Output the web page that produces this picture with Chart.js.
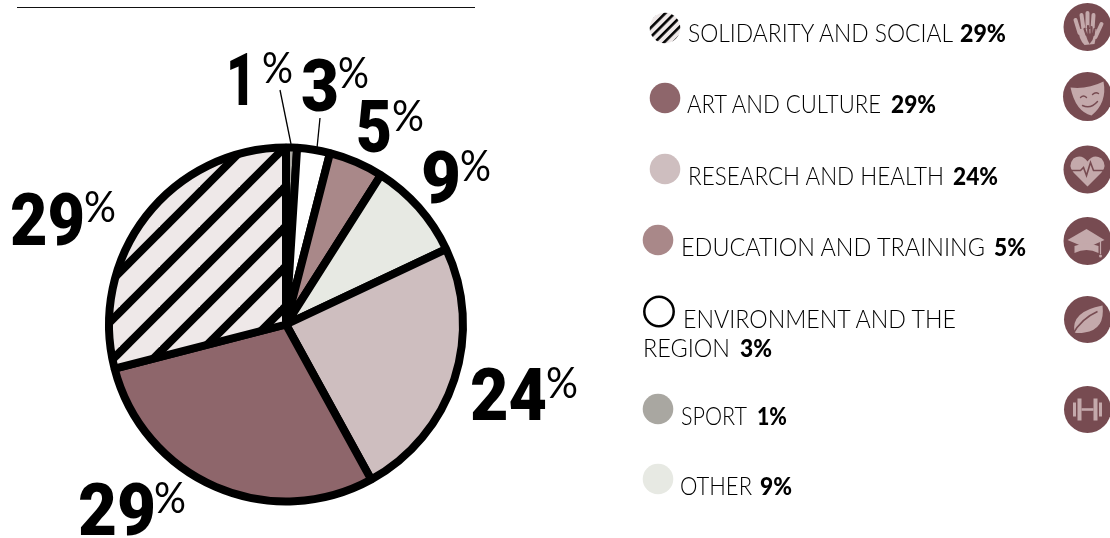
<!DOCTYPE html>
<html>
<head>
<meta charset="utf-8">
<title>Pie</title>
<script src="https://cdn.jsdelivr.net/npm/chart.js@4"></script>
<style>
  html, body { margin: 0; padding: 0; background: #fff; }
  #wrap { position: relative; width: 1110px; height: 538px; overflow: hidden; }
  #pie, #overlay { position: absolute; left: 0; top: 0; }
  #overlay text { font-family: Lato, sans-serif; fill: #000; }
  .name { font-size: 25px; font-weight: 300; fill: #1a1a1a; }
  .val { font-size: 24px; font-weight: 900; }
  #overlay .big { font-family: Roboto, sans-serif; font-size: 73px; font-weight: 900; }
  .pct { font-size: 42px; font-weight: 400; }
</style>
</head>
<body>
<div id="wrap">
  <canvas id="pie" width="1110" height="538"></canvas>
  <svg id="overlay" width="1110" height="538" xmlns="http://www.w3.org/2000/svg">
    <defs>
      <pattern id="swatch-stripes" width="6.6" height="6.6" patternUnits="userSpaceOnUse" patternTransform="rotate(45 665 28)">
        <rect width="6.6" height="6.6" fill="#eee8e8"/>
        <rect width="2.6" height="6.6" fill="#000"/>
      </pattern>
    </defs>
  </svg>
</div>
<script>
// slices clockwise from 12 o'clock
const categories = ['SPORT', 'ENVIRONMENT AND THE REGION', 'EDUCATION AND TRAINING', 'OTHER', 'RESEARCH AND HEALTH', 'ART AND CULTURE', 'SOLIDARITY AND SOCIAL'];
const values = [1, 3, 5, 9, 24, 29, 29];
const sliceColors = ['#a9a7a1', '#ffffff', '#a98889', '#e7e9e3', '#cebebf', '#8e666b', 'stripes'];

// number x, width, baseline, then % sign x, width, baseline
const bigLabelPlaces = [
  [226, 30, 105, 262, 31, 83],
  [301, 38, 111, 338, 31, 88],
  [356, 36, 152, 392, 32, 131],
  [421, 40, 203, 460, 31, 181],
  [470, 77, 420, 546, 32, 398],
  [78, 78, 535, 154, 32, 513],
  [10, 75, 245, 84, 32, 222]
];

// legend rows: slice index, dot x/y, then text lines [text, x, width, baseline], value [x, width, baseline]
const legendRows = [
  { i: 6, dot: [665, 28], lines: [['SOLIDARITY AND SOCIAL', 688, 265, 42]], val: [960, 46, 42] },
  { i: 5, dot: [665, 98], lines: [['ART AND CULTURE', 687, 194, 113]], val: [891, 45, 113] },
  { i: 4, dot: [665, 169], lines: [['RESEARCH AND HEALTH', 688, 256, 185]], val: [953, 45, 185] },
  { i: 2, dot: [658, 240], lines: [['EDUCATION AND TRAINING', 681, 304, 256]], val: [994, 32, 256] },
  { i: 1, dot: [659, 311.5], lines: [['ENVIRONMENT AND THE', 683, 273, 328], ['REGION', 643, 87, 357]], val: [740, 32, 357] },
  { i: 0, dot: [658, 409], lines: [['SPORT', 681, 66, 425]], val: [757, 30, 425] },
  { i: 3, dot: [658, 479], lines: [['OTHER', 680, 72, 495]], val: [760, 32, 495] }
];

const ICON_BG = '#774b51';
const ICON_FG = '#c4a9ab';

function stripePattern(ctx) {
  const tile = document.createElement('canvas');
  tile.width = 40;
  tile.height = 40;
  const t = tile.getContext('2d');
  t.fillStyle = '#eee8e8';
  t.fillRect(0, 0, 40, 40);
  t.strokeStyle = '#000';
  t.lineWidth = 8;
  [-8, 32, 72].forEach(c => {
    t.beginPath();
    t.moveTo(c + 10, -10);
    t.lineTo(-10, c + 10);
    t.stroke();
  });
  return ctx.createPattern(tile, 'repeat');
}

const ctx = document.getElementById('pie').getContext('2d');
new Chart(ctx, {
  type: 'pie',
  data: {
    labels: categories,
    datasets: [{
      data: values,
      backgroundColor: sliceColors.map(c => c === 'stripes' ? stripePattern(ctx) : c),
      borderColor: '#000',
      borderWidth: 8
    }]
  },
  options: {
    responsive: false,
    animation: false,
    layout: { padding: { left: 105, top: 143, right: 643, bottom: 32 } },
    plugins: { legend: { display: false }, tooltip: { enabled: false } }
  }
});

// ========== overlay ==========
const svg = document.getElementById('overlay');
const NS = 'http://www.w3.org/2000/svg';

function add(tag, attrs, parent) {
  const el = document.createElementNS(NS, tag);
  Object.keys(attrs).forEach(k => el.setAttribute(k, attrs[k]));
  (parent || svg).appendChild(el);
  return el;
}

function addText(str, x, width, y, cls) {
  const el = add('text', { x: x, y: y, class: cls, textLength: width, lengthAdjust: 'spacingAndGlyphs' });
  el.textContent = str;
}

add('line', { x1: 17, y1: 7.5, x2: 475, y2: 7.5, stroke: '#111', 'stroke-width': 1 });
add('line', { x1: 280, y1: 90, x2: 291, y2: 144, stroke: '#000', 'stroke-width': 1.3 });
add('line', { x1: 320, y1: 118, x2: 317, y2: 148, stroke: '#000', 'stroke-width': 1.3 });

values.forEach((v, i) => {
  const p = bigLabelPlaces[i];
  addText(String(v), p[0], p[1], p[2], 'big');
  addText('%', p[3], p[4], p[5], 'pct');
});

legendRows.forEach(row => {
  const color = sliceColors[row.i];
  const dot = { cx: row.dot[0], cy: row.dot[1], r: 15.3 };
  if (color === 'stripes') add('circle', Object.assign(dot, { fill: 'url(#swatch-stripes)' }));
  else if (color === '#ffffff') add('circle', Object.assign(dot, { r: 14.7, fill: '#fff', stroke: '#000', 'stroke-width': 2.5 }));
  else add('circle', Object.assign(dot, { fill: color }));
  row.lines.forEach(l => addText(l[0], l[1], l[2], l[3], 'name'));
  addText(values[row.i] + '%', row.val[0], row.val[1], row.val[2], 'val');
});

// ========== icons ==========
const icons = [
  [1087.5, 27, 24, `<g fill="none" stroke="${ICON_FG}" stroke-width="4" stroke-linecap="round"><path d="M-12,-7L-8,6M-6,-12L-4,2M0,-14V0M6,-12L5,2M14,-3L8,10"/></g><path d="M-9,2Q-9,12 -3,18L7,17Q9,8 9,2Z" fill="${ICON_FG}"/><g fill="none" stroke="${ICON_BG}" stroke-width="2.2" stroke-linecap="round"><path d="M-3,2L-1,8M0.5,-1L1,7M4,0L4,8M7,2L6,8"/></g><path d="M-2,7L7,6L5,13L2,17L0,13Z" fill="${ICON_BG}"/>`],
  [1087.5, 96.5, 24.5, `<path d="M-17,-9Q0,-7 16,-15Q20,6 4,19Q-12,15 -17,-9Z" fill="${ICON_FG}"/><g fill="none" stroke="${ICON_BG}" stroke-width="1.4" stroke-linecap="round"><path d="M-7,1Q-4,-2 -1,1M5,-2Q8,-5 11,-3M-5,9Q3,13 10,5"/></g>`],
  [1087.5, 169.5, 24, `<path d="M0,17L-14,3Q-20,-4 -14,-11Q-6,-16 0,-8Q6,-16 14,-11Q20,-4 14,3Z" fill="${ICON_FG}"/><path d="M-17,1H-7L-4,-2L-1,6L3,-7L6,1H17" fill="none" stroke="${ICON_BG}" stroke-width="1.6"/>`],
  [1087.5, 241, 24, `<path d="M-20,-1L-1,-12L17,-1L-1,7Z" fill="${ICON_FG}"/><path d="M-13,5Q-1,0 11,5V12Q-1,6 -13,12Z" fill="${ICON_FG}"/><path d="M13,-1V13" stroke="${ICON_FG}" stroke-width="1.2"/><circle cx="13" cy="15" r="1.5" fill="${ICON_FG}"/>`],
  [1087.5, 319.5, 23.5, `<path d="M-13,13Q-17,-8 15,-14Q18,10 -3,13Q-9,14 -13,13Z" fill="${ICON_FG}"/><path d="M-15,15Q-6,-1 10,-8" fill="none" stroke="${ICON_BG}" stroke-width="1.6"/>`],
  [1087.5, 409.5, 23.5, `<g fill="${ICON_FG}"><rect x="-14.5" y="-7" width="3" height="14"/><rect x="-10" y="-11" width="4" height="22"/><rect x="6" y="-11" width="4" height="22"/><rect x="11.5" y="-7" width="3" height="14"/><rect x="-6" y="-1.3" width="12" height="2.6"/></g>`]
];
icons.forEach(ic => {
  add('circle', { cx: ic[0], cy: ic[1], r: ic[2], fill: ICON_BG });
  const g = add('g', { transform: `translate(${ic[0]} ${ic[1]})` });
  g.innerHTML = ic[3];
});
</script>
</body>
</html>
